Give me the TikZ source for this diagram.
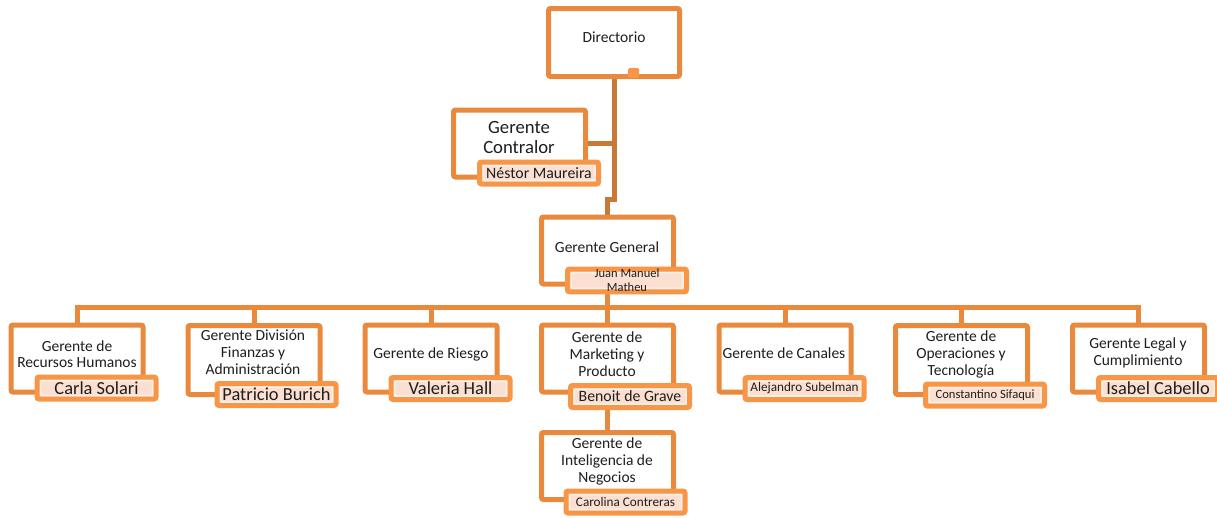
\documentclass[tikz,border=0pt]{standalone}
\usepackage{fontspec}
\setmainfont{Carlito}
\usetikzlibrary{backgrounds}
\definecolor{boxline}{HTML}{E8893E}
\definecolor{trunk}{HTML}{C77A38}
\definecolor{tagline}{HTML}{F79646}
\definecolor{tagfill}{HTML}{FBE0D1}
\definecolor{ink}{HTML}{1E1E1E}
\begin{document}
\begin{tikzpicture}[x=1pt,y=-1pt,
  unitbox/.style={draw=boxline, line width=5pt, fill=white, rounded corners=2pt,
    minimum width=132pt, minimum height=67pt, inner sep=0pt, outer sep=0pt},
  title/.style={align=center, text=ink, font=\fontsize{15.5}{17}\selectfont, inner sep=0pt},
  tag/.style={draw=tagline, line width=5pt, fill=tagfill, rounded corners=2pt,
    minimum width=119pt, minimum height=22pt, inner sep=0pt, outer sep=0pt,
    text=ink, align=center,
    path picture={\draw[line width=1.5pt, white!55!tagfill]
      ([xshift=3.5pt,yshift=-3.5pt]path picture bounding box.north west) rectangle
      ([xshift=-3.5pt,yshift=3.5pt]path picture bounding box.south east);}},
  link/.style={draw=boxline, line width=5pt},
  trunklink/.style={draw=trunk, line width=5pt},
  big/.style={font=\fontsize{18.4}{20}\selectfont},
  mid/.style={font=\fontsize{15.8}{17}\selectfont},
  small/.style={font=\fontsize{13.2}{14}\selectfont}]
\useasboundingbox (0,0) rectangle (1217,517);

% ---- position boxes ----
\node[unitbox, minimum width=131pt, minimum height=68pt] (dir) at (614,42.5) {};
\node[unitbox] (ctrl) at (519.5,143.5) {};
\node[unitbox] (gg) at (607.5,250.5) {};
\node[unitbox] (rrhh) at (77,358.5) {};
\node[unitbox, minimum height=69pt] (fin) at (254,360) {};
\node[unitbox] (ries) at (431,358.5) {};
\node[unitbox] (mkt) at (607.5,358.5) {};
\node[unitbox] (can) at (785,358.5) {};
\node[unitbox, minimum height=69pt] (ope) at (961.5,360) {};
\node[unitbox] (leg) at (1138.5,358.5) {};
\node[unitbox] (intel) at (607.5,466) {};

% small handle at the bottom of the board box
\node[fill=tagline, rounded corners=1.5pt, minimum width=11pt, minimum height=10pt,
  inner sep=0pt] (handle) at (633.5,73) {};

% ---- titles ----
\node[title] (dirT) at (614,37.5) {Directorio};
\node[title, font=\fontsize{18.7}{20}\selectfont] (ctrlT) at (519,137) {Gerente\\Contralor};
\node[title] (ggT) at (607,247) {Gerente General};
\node[title, font=\fontsize{15.5}{16}\selectfont] (rrhhT) at (77,354) {Gerente de\\Recursos Humanos};
\node[title] (finT) at (253,352) {Gerente División\\Finanzas y\\Administración};
\node[title] (riesT) at (431,354) {Gerente de Riesgo};
\node[title] (mktT) at (607,354) {Gerente de\\Marketing y\\Producto};
\node[title] (canT) at (784,353) {Gerente de Canales};
\node[title] (opeT) at (961,354) {Gerente de\\Operaciones y\\Tecnología};
\node[title] (legT) at (1138,353) {Gerente Legal y\\Cumplimiento};
\node[title] (intelT) at (607,461) {Gerente de\\Inteligencia de\\Negocios};

% ---- name tags ----
\node[tag, mid] (ctrlN) at (539,173) {Néstor Maureira};
\node[tag, minimum width=119pt, font=\fontsize{12.5}{14}\selectfont] (ggN) at (627,280.5) {Juan Manuel\\Matheu};
\node[tag, big] (rrhhN) at (96.5,388) {Carla Solari};
\node[tag, big] (finN) at (276.5,394.5) {Patricio Burich};
\node[tag, big] (riesN) at (450.5,388.5) {Valeria Hall};
\node[tag, mid] (mktN) at (630,396.5) {Benoit de Grave};
\node[tag, small] (canN) at (804.5,388.5) {Alejandro Subelman};
\node[tag, font=\fontsize{12.6}{14}\selectfont] (opeN) at (985,395) {Constantino Sifaqui};
\node[tag, big] (legN) at (1158,388.5) {Isabel Cabello};
\node[tag, small] (intelN) at (625.5,502) {Carolina Contreras};

% ---- connectors, behind the boxes ----
\begin{scope}[on background layer]
  \coordinate (bus) at (0,307.5);
  \draw[trunklink] (dir.south) -- ++(0,123) -| (gg.north);
  \draw[trunklink] (ctrl.east) -- (ctrl.east -| dir.south);
  \foreach \n in {rrhh,fin,ries,mkt,can,ope,leg}
    \draw[link] (\n.north) -- (\n.north |- bus) -| (gg.south);
  \draw[link] (mkt.south) -- (intel.north);
\end{scope}
\end{tikzpicture}
\end{document}
